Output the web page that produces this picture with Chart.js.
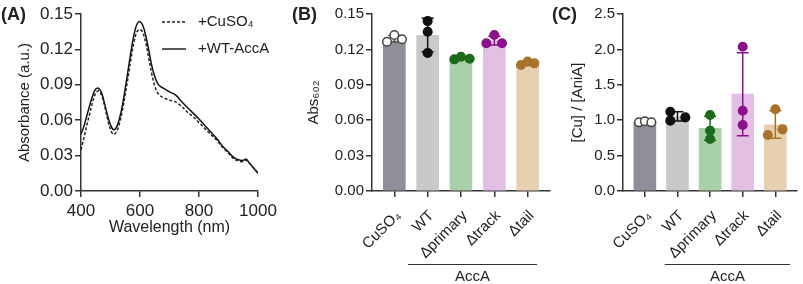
<!DOCTYPE html>
<html>
<head>
<meta charset="utf-8">
<script src="https://cdn.jsdelivr.net/npm/chart.js@4.4.0/dist/chart.umd.min.js"></script>
<style>
  body { margin: 0; background: #fff; }
  .stage { position: relative; width: 803px; height: 284px; overflow: hidden; }
  .stage canvas { position: absolute; left: 0; top: 0; }
</style>
</head>
<body>
<div class="stage">
  <canvas id="panelA" width="803" height="284"></canvas>
  <canvas id="panelB" width="803" height="284"></canvas>
  <canvas id="panelC" width="803" height="284"></canvas>
</div>
<script>
// (A) absorbance spectra
const wavelengths = [400, 410, 420, 430, 440, 450, 460, 470, 480, 490, 500, 510, 520, 530, 540, 550, 560, 570, 580, 590,
  600, 610, 620, 630, 640, 650, 660, 670, 680, 690, 700, 720, 740, 760, 780, 800, 820, 840, 860, 880,
  900, 920, 940, 950, 960, 970, 980, 990, 1000];
const absWT = [0.048, 0.055, 0.064, 0.073, 0.081, 0.0865, 0.087, 0.083, 0.074, 0.064, 0.056, 0.052, 0.054, 0.061, 0.072, 0.087, 0.103, 0.119, 0.133, 0.1415,
  0.1435, 0.140, 0.131, 0.119, 0.106, 0.097, 0.091, 0.0885, 0.087, 0.0855, 0.084, 0.0815, 0.076, 0.071, 0.066, 0.061, 0.0555, 0.050, 0.0445, 0.038,
  0.033, 0.028, 0.026, 0.026, 0.027, 0.024, 0.021, 0.018, 0.015];
const absCuSO4 = [0.035, 0.045, 0.056, 0.066, 0.076, 0.083, 0.085, 0.081, 0.072, 0.061, 0.052, 0.048, 0.050, 0.057, 0.068, 0.082, 0.097, 0.113, 0.127, 0.135,
  0.137, 0.134, 0.125, 0.112, 0.099, 0.089, 0.083, 0.0805, 0.079, 0.078, 0.077, 0.0755, 0.072, 0.067, 0.063, 0.058, 0.053, 0.048, 0.043, 0.037,
  0.032, 0.027, 0.025, 0.025, 0.026, 0.024, 0.021, 0.018, 0.015];
const spectraTicks = [400, 600, 800, 1000];

// (B) and (C) groups
const groups = ['CuSO₄', 'WT', 'Δprimary', 'Δtrack', 'Δtail'];

const abs602Mean = [0.127, 0.132, 0.1125, 0.1275, 0.1075];
const abs602Reps = [[0.1265, 0.1322, 0.1286], [0.144, 0.135, 0.117], [0.1116, 0.1138, 0.1121], [0.1252, 0.1322, 0.1252], [0.1068, 0.1096, 0.1082]];
const abs602Lo = [0.1262, 0.118, 0.1118, 0.1237, 0.1069];
const abs602Hi = [0.1318, 0.1463, 0.1133, 0.1312, 0.1095];
const abs602Jitter = [[-0.22, 0, 0.23], [0, 0, 0], [-0.2, 0, 0.26], [-0.24, 0, 0.23], [-0.2, 0, 0.2]];

const cuMean = [0.975, 1.05, 0.885, 1.37, 0.935];
const cuReps = [[0.97, 0.985, 0.97], [1.12, 0.993, 1.04], [1.073, 0.852, 0.734], [2.038, 1.134, 0.932], [0.791, 1.154, 0.871]];
const cuLo = [0.968, 0.99, 0.716, 0.781, 0.744];
const cuHi = [0.983, 1.12, 1.057, 1.953, 1.134];
const cuJitter = [[-0.18, 0, 0.2], [-0.22, -0.22, 0.24], [0, 0, 0], [0, 0, 0], [-0.23, 0, 0.22]];

const barColors = ['#8f8f99', '#c9c9c9', '#a9d1a9', '#e3c0e3', '#e7d0b0'];
const dotColors = ['#ffffff', '#111111', '#1b6b1b', '#8c0f8c', '#a8732a'];
const dotBorders = ['#444444', '#111111', '#1b6b1b', '#8c0f8c', '#a8732a'];
const errColors = ['#555555', '#111111', '#1b6b1b', '#8c0f8c', '#a8732a'];

const FONT = '"Liberation Sans", Arial, sans-serif';
Chart.defaults.font.family = FONT;
Chart.defaults.font.size = 15;
Chart.defaults.color = '#222';
Chart.defaults.animation = false;
Chart.defaults.plugins.legend.display = false;
Chart.defaults.plugins.tooltip.enabled = false;

const axisLine = { color: '#333', width: 1.5 };
const tickGrid = { drawOnChartArea: false, tickLength: 6, color: '#333', lineWidth: 1.5, offset: false };

// panel letter, spectra legend, AccA bracket
const decorations = {
  id: 'decorations',
  afterDraw(chart, args, opts) {
    const ctx = chart.ctx;
    ctx.save();
    ctx.fillStyle = '#222';
    ctx.textBaseline = 'middle';
    ctx.textAlign = 'left';
    ctx.font = 'bold 18px ' + FONT;
    ctx.fillText(opts.panel, opts.panelX, 15);

    if (opts.legend) {
      ctx.font = '15px ' + FONT;
      opts.legend.forEach((item, i) => {
        const ly = 22 + i * 27;
        ctx.strokeStyle = '#222';
        ctx.lineWidth = 1.5;
        ctx.setLineDash(item.dash);
        ctx.beginPath();
        ctx.moveTo(162, ly);
        ctx.lineTo(186, ly);
        ctx.stroke();
        ctx.setLineDash([]);
        ctx.fillText(item.text, 198, ly);
      });
    }

    if (opts.group) {
      const x = chart.scales.x;
      const x1 = x.getPixelForValue(opts.groupFrom);
      const x2 = x.getPixelForValue(opts.groupTo);
      ctx.strokeStyle = '#333';
      ctx.lineWidth = 1.2;
      ctx.beginPath();
      ctx.moveTo(x1, 264.5);
      ctx.lineTo(x2, 264.5);
      ctx.stroke();
      ctx.font = '15px ' + FONT;
      ctx.textAlign = 'center';
      ctx.fillText(opts.group, (x1 + x2) / 2, 277);
    }
    ctx.restore();
  }
};

// error bars drawn right after the bars, under the dots
const errorBars = {
  id: 'errorBars',
  afterDatasetDraw(chart, args, opts) {
    if (args.index !== 0 || !opts.lo) return;
    const { ctx, scales: { x, y } } = chart;
    ctx.save();
    ctx.lineWidth = 1.5;
    opts.lo.forEach((lo, i) => {
      const px = x.getPixelForValue(i);
      const y1 = y.getPixelForValue(lo);
      const y2 = y.getPixelForValue(opts.hi[i]);
      ctx.strokeStyle = opts.colors[i];
      ctx.beginPath();
      ctx.moveTo(px, y1); ctx.lineTo(px, y2);
      ctx.moveTo(px - 6, y1); ctx.lineTo(px + 6, y1);
      ctx.moveTo(px - 6, y2); ctx.lineTo(px + 6, y2);
      ctx.stroke();
    });
    ctx.restore();
  }
};

new Chart(document.getElementById('panelA'), {
  type: 'line',
  data: {
    datasets: [
      {
        label: '+CuSO₄',
        data: wavelengths.map((w, i) => ({ x: w, y: absCuSO4[i] })),
        borderColor: '#222', borderWidth: 1.5, borderDash: [3, 2],
        pointRadius: 0, tension: 0.35, fill: false
      },
      {
        label: '+WT-AccA',
        data: wavelengths.map((w, i) => ({ x: w, y: absWT[i] })),
        borderColor: '#111', borderWidth: 1.5,
        pointRadius: 0, tension: 0.35, fill: false
      }
    ]
  },
  options: {
    responsive: false,
    devicePixelRatio: 1,
    layout: { padding: { left: 16, right: 545, top: 14, bottom: 0 } },
    scales: {
      x: {
        type: 'linear', min: 400, max: 1000,
        afterBuildTicks: s => { s.ticks = spectraTicks.map(v => ({ value: v })); },
        afterFit: s => { s.height = 93; },
        ticks: { padding: 4, font: { size: 17 }, callback: v => String(v) },
        title: { display: true, text: 'Wavelength (nm)', font: { size: 16 }, padding: { top: 0, bottom: 47 } },
        grid: tickGrid, border: axisLine
      },
      y: {
        min: 0, max: 0.15,
        ticks: { stepSize: 0.03, padding: 2, font: { size: 17 }, callback: v => v.toFixed(2) },
        afterFit: s => { s.width = 65; },
        title: { display: true, text: 'Absorbance (a.u.)', padding: 0 },
        grid: tickGrid, border: axisLine
      }
    },
    plugins: {
      decorations: {
        panel: '(A)', panelX: 1,
        legend: [{ text: '+CuSO₄', dash: [3, 2] }, { text: '+WT-AccA', dash: [] }]
      }
    }
  },
  plugins: [decorations]
});

function barPanel(id, opt) {
  const dots = [], dotFill = [], dotLine = [];
  opt.reps.forEach((reps, i) => {
    reps.forEach((v, j) => {
      dots.push({ x: i + opt.jitter[i][j], y: v });
      dotFill.push(dotColors[i]);
      dotLine.push(dotBorders[i]);
    });
  });
  return new Chart(document.getElementById(id), {
    type: 'bar',
    data: {
      datasets: [
        {
          type: 'bar',
          order: 2,
          data: opt.mean.map((v, i) => ({ x: i, y: v })),
          backgroundColor: barColors,
          barThickness: 22,
          borderWidth: 0
        },
        {
          type: 'scatter',
          order: 1,
          data: dots,
          pointRadius: 4.3,
          pointBorderWidth: 1.5,
          pointBackgroundColor: dotFill,
          pointBorderColor: dotLine
        }
      ]
    },
    options: {
      responsive: false,
      devicePixelRatio: 1,
      layout: { padding: { left: opt.left, right: opt.right, top: 14, bottom: 0 } },
      scales: {
        x: {
          type: 'linear', min: -0.67, max: 4.67, offset: false,
          afterBuildTicks: s => { s.ticks = groups.map((g, i) => ({ value: i })); },
          afterFit: s => { s.height = 93; },
          ticks: { autoSkip: false, minRotation: 45, maxRotation: 45, padding: 10, labelOffset: 4, font: { size: 15 }, callback: v => groups[v] },
          grid: tickGrid, border: axisLine
        },
        y: {
          min: 0, max: opt.max,
          ticks: { stepSize: opt.step, padding: 2, callback: v => v.toFixed(opt.digits) },
          afterFit: s => { s.width = opt.yWidth; },
          title: { display: true, text: opt.title, padding: 0 },
          grid: tickGrid, border: axisLine
        }
      },
      plugins: {
        errorBars: { lo: opt.lo, hi: opt.hi, colors: errColors },
        decorations: { panel: opt.panel, panelX: opt.panelX, group: 'AccA', groupFrom: opt.groupFrom, groupTo: opt.groupTo }
      }
    },
    plugins: [errorBars, decorations]
  });
}

barPanel('panelB', {
  mean: abs602Mean, reps: abs602Reps, lo: abs602Lo, hi: abs602Hi, jitter: abs602Jitter,
  max: 0.15, step: 0.03, digits: 2, title: 'Abs₆₀₂',
  left: 305, yWidth: 67, right: 253, panel: '(B)', panelX: 292, groupFrom: 0.41, groupTo: 4.28
});

barPanel('panelC', {
  mean: cuMean, reps: cuReps, lo: cuLo, hi: cuHi, jitter: cuJitter,
  max: 2.5, step: 0.5, digits: 1, title: '[Cu] / [AniA]',
  left: 569, yWidth: 54, right: 2, panel: '(C)', panelX: 552, groupFrom: 0.61, groupTo: 4.45
});
</script>
</body>
</html>
